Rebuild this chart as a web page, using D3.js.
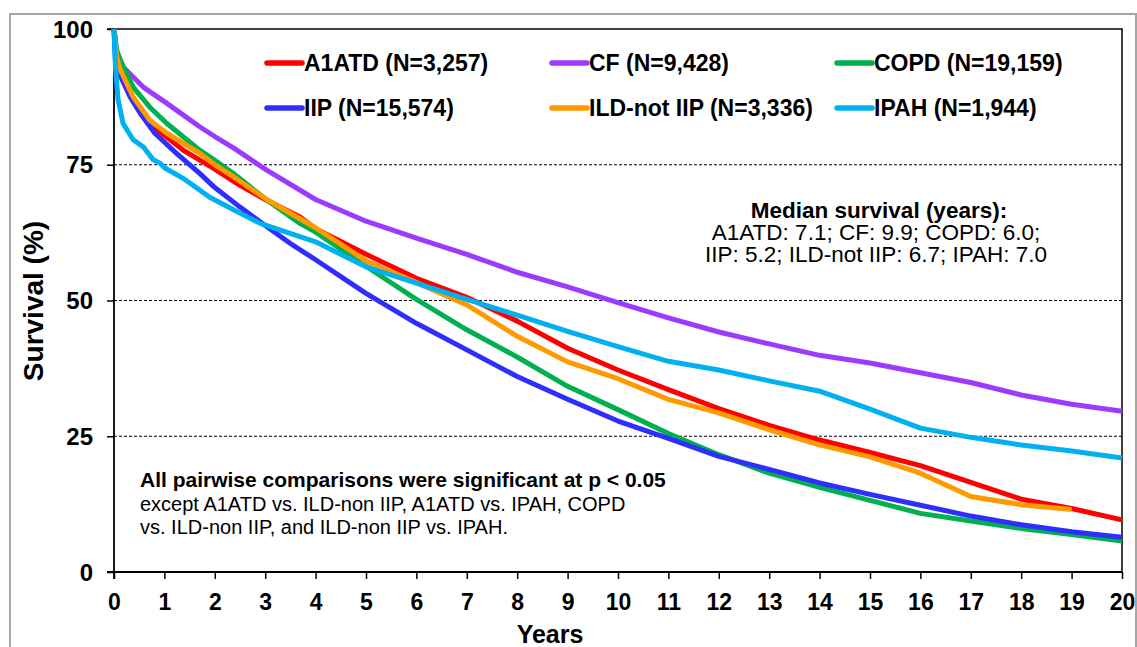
<!DOCTYPE html>
<html>
<head>
<meta charset="utf-8">
<script src="https://cdn.jsdelivr.net/npm/d3@7"></script>
<style>
  html, body { margin: 0; padding: 0; background: #fff; }
  svg { display: block; font-family: "Liberation Sans", Arial, sans-serif; }
</style>
</head>
<body>
<svg id="chart" width="1137" height="647"></svg>
<script>
// Kaplan-Meier survival estimates, [years, survival %]
const a1atd = [[0,100],[0.05,95],[0.1,92.8],[0.25,89.2],[0.5,85.3],[0.75,82.3],[1,80.4],[1.37,77.7],[2,74.2],[2.5,71.2],[3,68.6],[3.69,65.4],[4,63.2],[5,58.5],[6,54.1],[7,50.6],[8,46.2],[9,41.2],[10,37.2],[11,33.6],[12,30.1],[13,27],[14,24.3],[15,22],[16,19.6],[17,16.5],[18,13.4],[19,11.7],[20,9.6]];
const cf = [[0,100],[0.05,96],[0.18,93],[0.58,89.3],[1.05,86.3],[1.7,82],[2,80.2],[2.37,78.1],[3.03,74],[4,68.6],[5,64.6],[6,61.5],[7,58.5],[8,55.2],[9,52.5],[10,49.6],[11,46.8],[12,44.2],[13,42],[14,39.9],[15,38.5],[16,36.7],[17,34.9],[18,32.6],[19,30.9],[20,29.6]];
const copd = [[0,100],[0.05,96.2],[0.12,94.3],[0.38,89.3],[0.71,85.6],[1.05,82.6],[1.7,77.7],[2,75.8],[2.37,73.4],[3.03,68.5],[3.69,64.2],[4,62.6],[5,56.3],[6,50.2],[7,44.6],[8,39.6],[9,34.2],[10,29.9],[11,25.5],[12,21.6],[13,18.2],[14,15.6],[15,13.2],[16,10.8],[17,9.4],[18,8],[19,6.9],[20,5.7]];
const iip = [[0,100],[0.03,94],[0.12,91.5],[0.32,87.5],[0.52,84.5],[0.81,80.8],[1.24,77.1],[1.7,73.4],[2,70.8],[2.5,67.2],[3,63.8],[3.5,60.5],[4,57.5],[5,51.3],[6,45.8],[7,40.9],[8,36],[9,31.8],[10,27.8],[11,24.6],[12,21.3],[13,18.9],[14,16.4],[15,14.3],[16,12.3],[17,10.3],[18,8.7],[19,7.4],[20,6.4]];
const ildNotIip = [[0,100],[0.05,95],[0.12,92.6],[0.38,87.5],[0.71,83.2],[1.05,80.8],[1.7,77.1],[2,75],[2.37,72.8],[3.03,68.6],[4,63.4],[5,57.3],[6,53.3],[7,49.2],[8,43.4],[9,38.7],[10,35.6],[11,31.8],[12,29.3],[13,26.2],[14,23.4],[15,21.2],[16,18.2],[17,13.9],[18,12.4],[19,11.5]];
const ipah = [[0,100],[0.03,93],[0.08,87],[0.18,82.6],[0.38,79.6],[0.58,78.3],[0.78,75.9],[0.91,75.3],[1.01,74.4],[1.37,72.5],[1.9,69],[2.37,66.7],[2.9,64.2],[4,60.8],[5,56.2],[6,53.2],[7,50.2],[8,47.3],[9,44.3],[10,41.5],[11,38.8],[12,37.2],[13,35.2],[14,33.3],[15,30],[16,26.5],[17,24.8],[18,23.4],[19,22.3],[20,21]];

const seriesNames = ["A1ATD", "CF", "COPD", "IIP", "ILD-not IIP", "IPAH"];
const seriesN = ["3,257", "9,428", "19,159", "15,574", "3,336", "1,944"];
const seriesColors = ["#ff0000", "#9b3bff", "#00b050", "#2e2eff", "#ff9900", "#00b0f0"];
const seriesData = [a1atd, cf, copd, iip, ildNotIip, ipah];

const xTicks = d3.range(0, 21);
const yTicks = [0, 25, 50, 75, 100];
const gridValues = [25, 50, 75];

const medianLines = ["A1ATD: 7.1; CF: 9.9; COPD: 6.0;", "IIP: 5.2; ILD-not IIP: 6.7; IPAH: 7.0"];
const noteLines = ["except A1ATD vs. ILD-non IIP, A1ATD vs. IPAH, COPD", "vs. ILD-non IIP, and ILD-non IIP vs. IPAH."];

const svg = d3.select("#chart");
const plot = { left: 114, right: 1122, top: 29, bottom: 572 };

const x = d3.scaleLinear().domain([0, 20]).range([plot.left, plot.right]);
const y = d3.scaleLinear().domain([0, 100]).range([plot.bottom, plot.top]);

// outer panel border
svg.append("rect")
  .attr("x", 10).attr("y", 14).attr("width", 1126).attr("height", 660)
  .attr("fill", "none").attr("stroke", "#a6a6a6").attr("stroke-width", 2);

// dashed reference lines
svg.append("g").selectAll("line").data(gridValues).join("line")
  .attr("x1", plot.left).attr("x2", plot.right)
  .attr("y1", d => y(d)).attr("y2", d => y(d))
  .attr("stroke", "#000").attr("stroke-width", 1.2).attr("stroke-dasharray", "3,2");

// top and right frame
svg.append("path")
  .attr("d", `M${plot.left - 7},${y(100)}H${plot.right}V${plot.bottom}`)
  .attr("fill", "none").attr("stroke", "#000").attr("stroke-width", 1.5);

// axes
const xAxis = d3.axisBottom(x).tickValues(xTicks).tickSize(7).tickSizeOuter(0);
const gx = svg.append("g").attr("transform", `translate(0,${plot.bottom})`).call(xAxis);
gx.select(".domain").attr("stroke", "#000").attr("stroke-width", 1.8)
  .attr("d", `M${plot.left - 7},0H${plot.right}`);
gx.selectAll(".tick line").attr("stroke", "#000").attr("stroke-width", 1.5);
gx.selectAll(".tick text").attr("y", 38).attr("dy", 0)
  .attr("font-size", 23).attr("font-weight", "bold")
  .attr("fill", "#000").attr("font-family", "Liberation Sans, Arial, sans-serif");

const yAxis = d3.axisLeft(y).tickValues(yTicks).tickSize(7).tickSizeOuter(0);
const gy = svg.append("g").attr("transform", `translate(${plot.left},0)`).call(yAxis);
gy.select(".domain").attr("stroke", "#000").attr("stroke-width", 1.8)
  .attr("d", `M0,${plot.top}V${plot.bottom + 7}`);
gy.selectAll(".tick line").attr("stroke", "#000").attr("stroke-width", 1.5);
gy.selectAll(".tick text").attr("x", -21).attr("dy", "0.34em")
  .attr("font-size", 24).attr("font-weight", "bold")
  .attr("fill", "#000").attr("font-family", "Liberation Sans, Arial, sans-serif");

// axis titles
svg.append("text").attr("x", 550).attr("y", 643).attr("text-anchor", "middle")
  .attr("font-size", 25).attr("font-weight", "bold").text("Years");
svg.append("text").attr("transform", "translate(43,301) rotate(-90)").attr("text-anchor", "middle")
  .attr("font-size", 28).attr("font-weight", "bold").text("Survival (%)");

// survival curves
const line = d3.line().x(d => x(d[0])).y(d => y(d[1])).curve(d3.curveLinear);
svg.append("g").selectAll("path").data(seriesData).join("path")
  .attr("d", line)
  .attr("fill", "none")
  .attr("stroke", (d, i) => seriesColors[i])
  .attr("stroke-width", 5)
  .attr("stroke-linejoin", "round");

// legend
const legendCols = [267, 552, 837];
const legendRows = [63, 108];
const legend = svg.append("g").selectAll("g").data(seriesNames).join("g")
  .attr("transform", (d, i) => `translate(${legendCols[i % 3]},${legendRows[Math.floor(i / 3)]})`);
legend.append("line").attr("x1", 0).attr("x2", 35).attr("y1", 0).attr("y2", 0)
  .attr("stroke", (d, i) => seriesColors[i]).attr("stroke-width", 5.5).attr("stroke-linecap", "round");
legend.append("text").attr("x", 37).attr("y", 8)
  .attr("font-size", 23).attr("font-weight", "bold").attr("fill", "#000")
  .text((d, i) => `${d} (N=${seriesN[i]})`);

// median survival annotation
const med = svg.append("text").attr("text-anchor", "middle").attr("font-size", 22.5).attr("fill", "#000");
med.append("tspan").attr("x", 879).attr("y", 218).attr("font-weight", "bold").text("Median survival (years):");
medianLines.forEach((t, i) => med.append("tspan").attr("x", 876).attr("y", 240 + i * 22).text(t));

// pairwise comparison note
const note = svg.append("text").attr("fill", "#000");
note.append("tspan").attr("x", 140).attr("y", 487).attr("font-size", 21).attr("font-weight", "bold")
  .text("All pairwise comparisons were significant at p < 0.05");
noteLines.forEach((t, i) => note.append("tspan").attr("x", 140).attr("y", 511 + i * 22.5)
  .attr("font-size", 20).text(t));
</script>
</body>
</html>
